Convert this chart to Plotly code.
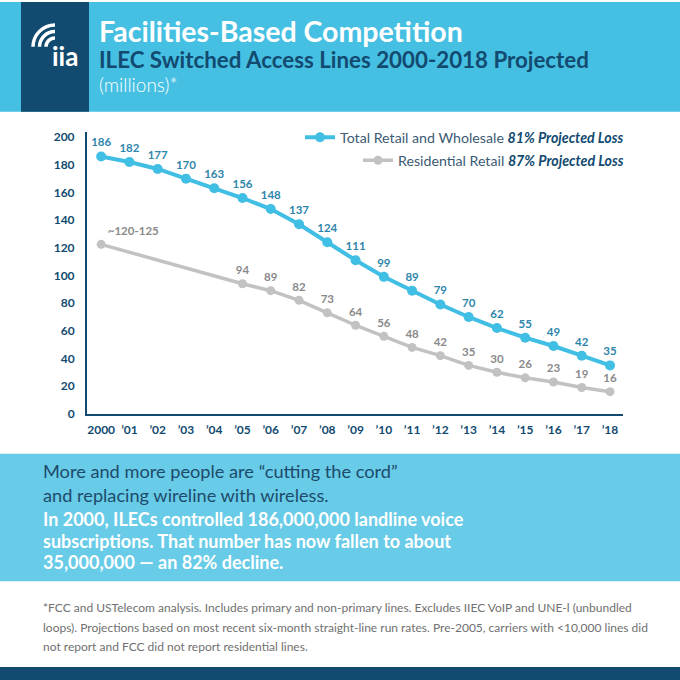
import plotly.graph_objects as go

# Data (millions of lines)
years = list(range(2000, 2019))
year_labels = ["2000", "’01", "’02", "’03", "’04", "’05", "’06", "’07", "’08", "’09",
               "’10", "’11", "’12", "’13", "’14", "’15", "’16", "’17", "’18"]
total_lines = [186, 182, 177, 170, 163, 156, 148, 137, 124, 111,
               99, 89, 79, 70, 62, 55, 49, 42, 35]
# pre-2005 residential lines were not reported, only a rough 2000 estimate
residential_lines = [122.5, None, None, None, None, 94, 89, 82, 73, 64,
                     56, 48, 42, 35, 30, 26, 23, 19, 16]
residential_labels = ["~120-125", "", "", "", "", "94", "89", "82", "73", "64",
                      "56", "48", "42", "35", "30", "26", "23", "19", "16"]

W = H = 680
PAGE_H = 687  # the snapshot comes out a touch taller than the window, so fill it
NAVY = "#124a70"
CYAN = "#40bee3"
BAND = "#46c0e2"
BAND2 = "#68cbe7"
GREY = "#c2c2c2"
FONT = "Lato"


def px(x):
    return x / W


def py(y):
    return 1 - y / H


fig = go.Figure()

fig.add_trace(go.Scatter(
    x=years, y=total_lines,
    mode="lines+markers+text",
    text=[str(v) for v in total_lines],
    textposition="top center",
    textfont=dict(family=FONT, size=11.5, color="#2f86ab", weight="bold"),
    line=dict(color=CYAN, width=4),
    marker=dict(color=CYAN, size=10),
    name="<span style='color:#3c5a74'>Total Retail and Wholesale</span> "
         "<b><i>81% Projected Loss</i></b>",
    legend="legend",
    showlegend=True,
    cliponaxis=False,
))

fig.add_trace(go.Scatter(
    x=years, y=residential_lines,
    mode="lines+markers+text",
    connectgaps=True,
    text=residential_labels,
    textposition=["top right"] + ["top center"] * 18,
    textfont=dict(family=FONT, size=11.5, color="#8a8a8a", weight="bold"),
    line=dict(color=GREY, width=3.5),
    marker=dict(color=GREY, size=9),
    name="<span style='color:#3c5a74'>Residential Retail</span> "
         "<b><i>87% Projected Loss</i></b>",
    legend="legend2",
    showlegend=True,
    cliponaxis=False,
))

# Background bands
shapes = [
    dict(type="rect", xref="paper", yref="paper", x0=0, x1=1, y0=py(110), y1=1,
         fillcolor=BAND, line_width=0, layer="below"),
    dict(type="rect", xref="paper", yref="paper", x0=px(21), x1=px(89), y0=py(110), y1=1,
         fillcolor=NAVY, line_width=0, layer="below"),
    dict(type="rect", xref="paper", yref="paper", x0=0, x1=1, y0=py(581), y1=py(453),
         fillcolor=BAND2, line_width=0, layer="below"),
    dict(type="rect", xref="paper", yref="paper", x0=0, x1=1, y0=0, y1=py(667),
         fillcolor=NAVY, line_width=0, layer="below"),
]

# wifi arcs in the logo
cx, cy = 55, 45
for r in (9, 15.5, 22):
    shapes.append(dict(
        type="path", xref="paper", yref="paper",
        path=f"M {px(cx - r)} {py(cy)} C {px(cx - r)} {py(cy - r * 0.55)} "
             f"{px(cx - r * 0.55)} {py(cy - r)} {px(cx)} {py(cy - r)}",
        line=dict(color="white", width=3.5),
    ))


def note(text, x, y, size, color, anchor="left", weight=None):
    font = dict(family=FONT, size=size, color=color)
    if weight is not None:
        font["weight"] = weight
    return dict(text=text, x=px(x), y=py(y), xanchor=anchor, yanchor="middle",
                xref="paper", yref="paper", showarrow=False, align="left", font=font)


annotations = [
    note("<b>iia</b>", 65, 54, 26, "white", anchor="center"),
    note("<b>Facilities-Based Competition</b>", 97, 29, 28.5, "white"),
    note("<b>ILEC Switched Access Lines 2000-2018 Projected</b>", 97, 58, 22.3, NAVY),
    note("(millions)*", 97, 83, 19, "white", weight=300),
    note("More and more people are “cutting the cord”", 41, 470, 18.2, "#1d4b6c"),
    note("and replacing wireline with wireless.", 41, 494, 18.2, "#1d4b6c"),
    note("<b>In 2000, ILECs controlled 186,000,000 landline voice</b>", 41, 519, 18, "white"),
    note("<b>subscriptions. That number has now fallen to about</b>", 41, 541, 18, "white"),
    note("<b>35,000,000 — an 82% decline.</b>", 41, 562, 18, "white"),
    note("*FCC and USTelecom analysis. Includes primary and non-primary lines. "
         "Excludes IIEC VoIP and UNE-l (unbundled", 41, 607, 12, "#707070"),
    note("loops). Projections based on most recent six-month straight-line run rates. "
         "Pre-2005, carriers with &lt;10,000 lines did", 41, 627, 12, "#707070"),
    note("not report and FCC did not report residential lines.", 41, 646, 12, "#707070"),
]

fig.update_layout(
    width=W, height=PAGE_H,
    margin=dict(l=0, r=0, t=0, b=0),
    paper_bgcolor="white",
    plot_bgcolor="white",
    font=dict(family=FONT),
    shapes=shapes,
    annotations=annotations,
    showlegend=True,
    legend=dict(x=px(629), y=py(136), xanchor="right", yanchor="middle",
                font=dict(family=FONT, size=14.2, color=NAVY),
                bgcolor="rgba(0,0,0,0)", itemwidth=30),
    legend2=dict(x=px(629), y=py(159), xanchor="right", yanchor="middle",
                 font=dict(family=FONT, size=14.2, color=NAVY),
                 bgcolor="rgba(0,0,0,0)", itemwidth=30),
    xaxis=dict(
        domain=[px(87), px(623)],
        range=[1999.5, 2018.46],
        tickmode="array", tickvals=years, ticktext=year_labels,
        showgrid=False, zeroline=False,
        showline=True, linecolor=NAVY, linewidth=2,
        ticks="", ticklabelstandoff=4,
        tickfont=dict(family=FONT, size=12, color=NAVY, weight="bold"),
    ),
    yaxis=dict(
        domain=[py(413), py(130)],
        range=[0, 204],
        tickmode="array", tickvals=list(range(0, 201, 20)),
        showgrid=False, zeroline=False,
        showline=True, linecolor=NAVY, linewidth=2,
        ticks="", ticklabelstandoff=8,
        tickfont=dict(family=FONT, size=12, color=NAVY, weight="bold"),
    ),
)

# drop the page's default margin/overflow so the figure fills the window exactly
page_fix = """
document.documentElement.style.overflow = 'hidden';
document.body.style.margin = '0';
document.body.style.overflow = 'hidden';
"""
fig.write_html("out.html", config={"displayModeBar": False}, post_script=page_fix)
